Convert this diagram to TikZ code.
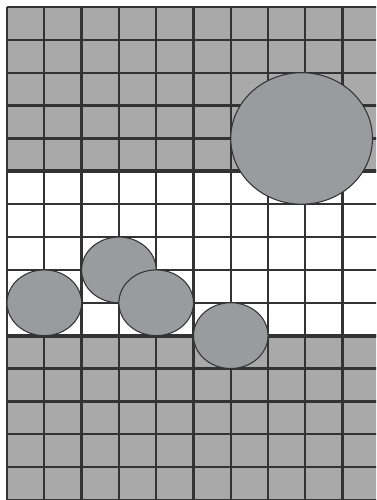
\documentclass[tikz,border=0pt]{standalone}
\usepackage{tikz}
\definecolor{cellgray}{HTML}{A9A9A9}
\definecolor{graingray}{HTML}{9A9B9F}
\definecolor{linegray}{HTML}{333333}

\begin{document}
\begin{tikzpicture}[
    x=0.02cm, y=-0.02cm,
    layerfill/.style={fill=cellgray},
    gridline/.style={draw=linegray, line width=1.3pt},
    layerline/.style={draw=linegray, line width=2.4pt},
    grain/.style={fill=graingray, draw=linegray, line width=0.6pt}
  ]
    \useasboundingbox (0,0) rectangle (376,500);
    \begin{scope}
      \clip (0,0) rectangle (376,500);
      % one unit = one cell of the grid
      \begin{scope}[shift={(7,7)}, x=0.746cm, y=-0.6574cm]
        \fill[layerfill] (0,0) rectangle (11,5);
        \fill[layerfill] (0,10) rectangle (11,16);
        \foreach \j in {0,...,10}
          \draw[gridline] (\j,0) -- (\j,16);
        \foreach \k in {0,...,15}
          \draw[gridline] (0,\k) -- (11,\k);
        \draw[layerline] (0,5) -- (11,5);
        \draw[layerline] (0,10) -- (11,10);
        % grains
        \foreach \cx/\cy in {1/9, 3/8, 4/9, 6/10}
          \draw[grain] (\cx,\cy) ellipse [x radius=1, y radius=1];
        \draw[grain] (7.9,4) ellipse [x radius=1.9, y radius=2];
      \end{scope}
    \end{scope}
  \end{tikzpicture}
\end{document}
